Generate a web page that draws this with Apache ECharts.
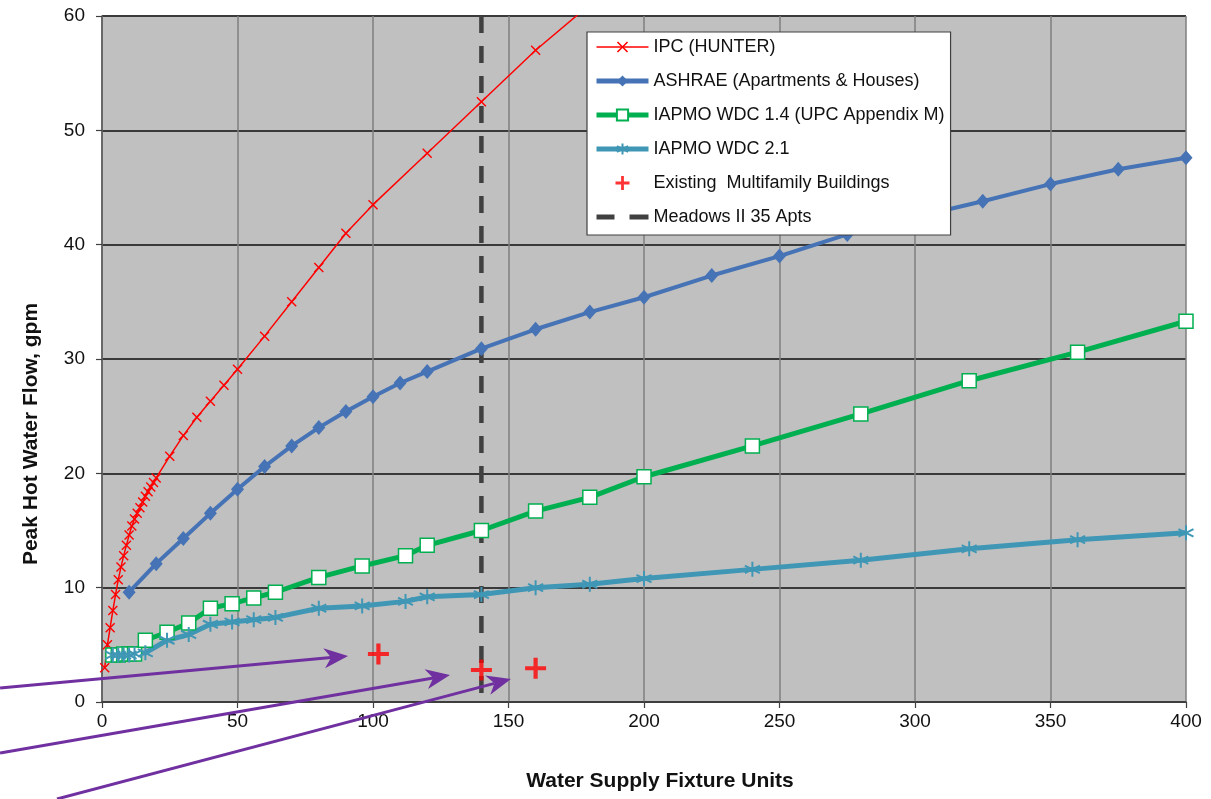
<!DOCTYPE html>
<html>
<head>
<meta charset="utf-8">
<script src="https://cdn.jsdelivr.net/npm/echarts@6/dist/echarts.min.js"></script>
<style>html,body{margin:0;padding:0;background:#fff}#c{width:1211px;height:799px}</style>
</head>
<body>
<div id="c"></div>
<script>
// ---- data ----
const ipcX = [1,2,3,4,5,6,7,8,9,10,11,12,13,14,15,16,17,18,19,20,25,30,35,40,45,50,60,70,80,90,100,120,140,160,180];
const ipcY = [3.0,5.0,6.5,8.0,9.4,10.7,11.8,12.8,13.7,14.6,15.4,16.0,16.5,17.0,17.5,18.0,18.4,18.8,19.2,19.6,21.5,23.3,24.9,26.3,27.7,29.1,32.0,35.0,38.0,41.0,43.5,48.0,52.5,57.0,61.0];

const ashraeX = [10,20,30,40,50,60,70,80,90,100,110,120,140,160,180,200,225,250,275,300,325,350,375,400];
const ashraeY = [9.6,12.1,14.3,16.5,18.6,20.6,22.4,24.0,25.4,26.7,27.9,28.9,30.9,32.6,34.1,35.4,37.3,39.0,40.9,42.4,43.8,45.3,46.6,47.6];

const wdcX = [4,6,8,10,12,16,24,32,40,48,56,64,80,96,112,120,140,160,180,200,240,280,320,360,400];
const wdc14Y = [4.1,4.1,4.2,4.2,4.2,5.4,6.1,6.9,8.2,8.6,9.1,9.6,10.9,11.9,12.8,13.7,15.0,16.7,17.9,19.7,22.4,25.2,28.1,30.6,33.3];
const wdc21Y = [4.1,4.1,4.1,4.1,4.2,4.3,5.4,5.9,6.8,7.0,7.2,7.4,8.2,8.4,8.8,9.2,9.4,10.0,10.3,10.8,11.6,12.4,13.4,14.2,14.8];

const existingX = [102,140,160];
const existingY = [4.2,2.8,2.95];

const meadowsX = 140;
const yRange = [60,0];
const xTicks = {min:0,max:400,interval:50};
const yTicks = {min:0,max:60,interval:10};

const seriesNames = ['IPC (HUNTER)','ASHRAE (Apartments & Houses)','IAPMO WDC 1.4 (UPC Appendix M)','IAPMO WDC 2.1','Existing  Multifamily Buildings','Meadows II 35 Apts'];
const xTitle = 'Water Supply Fixture Units';
const yTitle = 'Peak Hot Water Flow, gpm';

// annotation arrows (data units: tail -> head)
const arrows = [
  [[-37.6,1.22],[90.8,4.02]],
  [[-37.6,-4.46],[128.4,2.36]],
  [[-16.6,-8.48],[150.9,2.01]]
];

// ---- chart ----
const pair = (xs, ys) => xs.map((x,i)=>[x, ys[i]]);
const FONT = '"Liberation Sans", Arial, sans-serif';
const xSym = 'path://M0,1L1,0L5,4L9,0L10,1L6,5L10,9L9,10L5,6L1,10L0,9L4,5Z';
const plusSym = 'path://M4,0H6V4H10V6H6V10H4V6H0V4H4Z';
const starSym = 'path://M5,0L5,10M0.8,2.5L9.2,7.5M9.2,2.5L0.8,7.5';
const dashIcon = 'path://M0,0H18V5H0ZM33,0H52V5H33Z';

const C = {red:'#ff0000', blue:'#4673b5', green:'#00b050', teal:'#3f97b5', dash:'#404040'};

const chart = echarts.init(document.getElementById('c'), null, {renderer:'canvas'});
const option = {
  animation:false,
  backgroundColor:'#ffffff',
  grid:{left:102,right:25,top:16,bottom:97,show:true,backgroundColor:'#c0c0c0',borderWidth:0,containLabel:false,outerBoundsMode:'none'},
  xAxis:{type:'value',min:xTicks.min,max:xTicks.max,interval:xTicks.interval,
    axisLine:{show:true,onZero:false,lineStyle:{color:'#404040',width:1.5}},
    axisTick:{show:true,length:6,lineStyle:{color:'#404040',width:1.2}},
    axisLabel:{color:'#111',fontSize:19,fontFamily:FONT,margin:10,showMinLabel:true,showMaxLabel:true},
    splitLine:{show:true,lineStyle:{color:'#7f7f7f',width:1.5}}},
  yAxis:{type:'value',min:yTicks.min,max:yTicks.max,interval:yTicks.interval,
    axisLine:{show:true,onZero:false,lineStyle:{color:'#595959',width:1.5}},
    axisTick:{show:true,length:6,lineStyle:{color:'#404040',width:1.2}},
    axisLabel:{color:'#111',fontSize:19,fontFamily:FONT,margin:17,showMinLabel:true,showMaxLabel:true},
    splitLine:{show:true,lineStyle:{color:'#3a3a3a',width:2}}},
  legend:{orient:'vertical',left:587,top:32,padding:[6,6,9,7],itemWidth:52,itemHeight:14,itemGap:16,
    backgroundColor:'#ffffff',borderColor:'#404040',borderWidth:1.2,selectedMode:false,
    textStyle:{fontSize:18,color:'#111',fontFamily:FONT},
    data:[
      {name:seriesNames[0],lineStyle:{width:1.5}},
      {name:seriesNames[1],lineStyle:{width:5}},
      {name:seriesNames[2],lineStyle:{width:5}},
      {name:seriesNames[3],lineStyle:{width:5}},
      {name:seriesNames[4]},
      {name:seriesNames[5],icon:dashIcon,itemStyle:{color:C.dash}}
    ]},
  series:[
    {name:seriesNames[5],type:'line',data:[[meadowsX,yRange[0]],[meadowsX,yRange[1]]],symbol:'none',
      lineStyle:{color:C.dash,width:4.5,type:[17,13]},itemStyle:{color:C.dash},z:2},
    {name:seriesNames[0],type:'line',data:pair(ipcX,ipcY),symbol:xSym,symbolSize:10,
      lineStyle:{color:C.red,width:1.5},itemStyle:{color:C.red},z:3},
    {name:seriesNames[1],type:'line',data:pair(ashraeX,ashraeY),symbol:'diamond',symbolSize:[13,15],
      lineStyle:{color:C.blue,width:4},itemStyle:{color:C.blue},z:3},
    {name:seriesNames[2],type:'line',data:pair(wdcX,wdc14Y),symbol:'rect',symbolSize:14,
      lineStyle:{color:C.green,width:5},itemStyle:{color:'#ffffff',borderColor:C.green,borderWidth:1.5},z:3},
    {name:seriesNames[3],type:'line',data:pair(wdcX,wdc21Y),symbol:starSym,symbolSize:15,
      lineStyle:{color:C.teal,width:5},itemStyle:{color:C.teal,borderColor:C.teal,borderWidth:2},z:3},
    {name:seriesNames[4],type:'scatter',data:pair(existingX,existingY),symbol:plusSym,symbolSize:21,
      itemStyle:{color:C.red},z:4}
  ]
};
chart.setOption(option);

// titles + arrows
const g = [];
g.push({type:'text',x:660,y:781,z:50,style:{text:xTitle,font:'bold 21px '+FONT,fill:'#111',
  textAlign:'center',align:'center',textVerticalAlign:'middle',verticalAlign:'middle'}});
g.push({type:'text',x:31,y:434,rotation:Math.PI/2,z:50,style:{text:yTitle,font:'bold 21px '+FONT,fill:'#111',
  textAlign:'center',align:'center',textVerticalAlign:'middle',verticalAlign:'middle'}});
arrows.forEach(a=>{
  const p0 = chart.convertToPixel({xAxisIndex:0,yAxisIndex:0}, a[0]);
  const p1 = chart.convertToPixel({xAxisIndex:0,yAxisIndex:0}, a[1]);
  const dx = p1[0]-p0[0], dy = p1[1]-p0[1];
  const L = Math.sqrt(dx*dx+dy*dy), ux = dx/L, uy = dy/L, nx = -uy, ny = ux;
  const len = 24, hw = 10, notch = 17;
  const back = [p1[0]-ux*len, p1[1]-uy*len];
  const nt = [p1[0]-ux*notch, p1[1]-uy*notch];
  g.push({type:'line',z:60,shape:{x1:p0[0],y1:p0[1],x2:nt[0],y2:nt[1]},style:{stroke:'#7030a0',lineWidth:3}});
  g.push({type:'polygon',z:61,shape:{points:[p1,[back[0]+nx*hw,back[1]+ny*hw],nt,[back[0]-nx*hw,back[1]-ny*hw]]},
    style:{fill:'#7030a0'}});
});
chart.setOption({graphic:g});
</script>
</body>
</html>
